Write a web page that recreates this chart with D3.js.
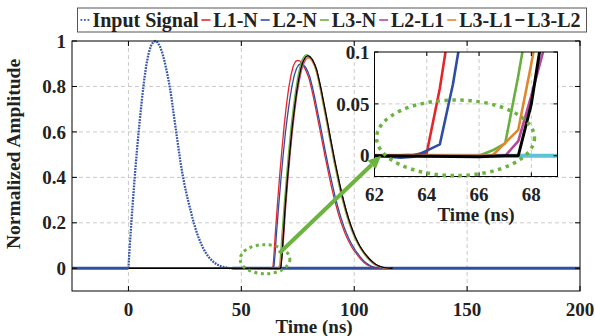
<!DOCTYPE html>
<html><head><meta charset="utf-8">
<script src="https://cdn.jsdelivr.net/npm/d3@7/dist/d3.min.js"></script>
<style>
body{margin:0;background:#fff}
svg{display:block}
text{font-family:"Liberation Serif","Times New Roman",Times,serif;font-weight:700;fill:#222}
</style>
</head><body>
<svg id="c" width="595" height="336"></svg>
<script>
// ---------------- data ----------------
const seriesNames = ["Input Signal","L1-N","L2-N","L3-N","L2-L1","L3-L1","L3-L2"];
const xTickValues = [0,50,100,150,200];
const yTickValues = [0,0.2,0.4,0.6,0.8,1];
const yTickLabels = ["0","0.2","0.4","0.6","0.8","1"];
const insetXTicks = [62,64,66,68];
const insetYTicks = [0,0.05,0.1];
const insetYLabels = ["0","0.05","0.1"];

const inputSignal = [[-25,0],[0,0],[0.5,0.085],[1,0.16],[1.5,0.23],[2,0.3],[3,0.43],[4,0.545],[5,0.65],[6,0.745],[7,0.83],[8,0.9],[9,0.948],[10,0.98],[11,0.996],[12,1.0],[13,0.993],[14,0.975],[15,0.948],[16,0.91],[17,0.865],[18,0.815],[19,0.755],[20,0.68],[21,0.61],[22,0.54],[23,0.47],[24,0.41],[25,0.36],[26,0.315],[27,0.275],[28,0.235],[29,0.198],[30,0.165],[31,0.137],[32,0.112],[33,0.09],[34,0.072],[35,0.057],[36,0.044],[37,0.034],[38,0.025],[39,0.018],[40,0.013],[41,0.009],[42,0.006],[43,0.004],[44,0.002],[45,0.001],[46,0],[200,0]];

const l1n = [[0,0],[62,0],[63,0.0005],[63.5,0.001],[64,0.003],[64.5,0.065],[65,0.146],[66,0.285],[67,0.41],[68,0.525],[69,0.63],[70,0.72],[71,0.795],[72,0.85],[73,0.89],[74,0.91],[75,0.915],[76,0.912],[77,0.9],[78,0.882],[79,0.86],[80,0.835],[81,0.795],[82,0.75],[83,0.7],[84,0.65],[85,0.6],[86,0.548],[87,0.497],[88,0.448],[89,0.4],[90,0.355],[91,0.313],[92,0.275],[93,0.239],[94,0.207],[95,0.178],[96,0.152],[97,0.13],[98,0.11],[99,0.092],[100,0.077],[101,0.064],[102,0.05],[103,0.038],[104,0.028],[105,0.02],[106,0.014],[107,0.009],[108,0.006],[109,0.003],[110,0.002],[112,0]];

const l2n = [[0,0],[62,0],[62.5,-0.001],[63,-0.002],[63.5,-0.001],[64,0.005],[64.5,0.011],[65,0.069],[65.5,0.144],[66.5,0.27],[67.5,0.387],[68.5,0.495],[69.5,0.594],[70.5,0.675],[71.5,0.747],[72.5,0.806],[73.5,0.851],[74.5,0.88],[75.5,0.896],[76.5,0.9],[77.5,0.896],[78.5,0.884],[79.5,0.864],[80.5,0.837],[81.5,0.797],[82.5,0.752],[83.5,0.702],[84.5,0.653],[85.5,0.603],[86.5,0.551],[87.5,0.5],[88.5,0.45],[89.5,0.405],[90.5,0.36],[91.5,0.317],[92.5,0.279],[93.5,0.243],[94.5,0.211],[95.5,0.182],[96.5,0.156],[97.5,0.133],[98.5,0.113],[99.5,0.095],[100.5,0.079],[101.5,0.066],[102.5,0.052],[103.5,0.04],[104.5,0.03],[105.5,0.022],[106.5,0.015],[107.5,0.01],[108.5,0.006],[109.5,0.003],[110.5,0.002],[112.5,0]];

const l3n = [[0,0],[62,0],[65,0],[65.5,-0.001],[66,0],[66.5,0.005],[67,0.012],[67.5,0.077],[68,0.15],[69,0.282],[70,0.404],[71,0.517],[72,0.62],[73,0.705],[74,0.78],[75,0.841],[76,0.888],[77,0.919],[78,0.935],[79,0.94],[80,0.935],[81,0.923],[82,0.902],[83,0.874],[84,0.832],[85,0.785],[86,0.733],[87,0.682],[88,0.63],[89,0.575],[90,0.523],[91,0.47],[92,0.423],[93,0.376],[94,0.331],[95,0.291],[96,0.254],[97,0.22],[98,0.19],[99,0.163],[100,0.139],[101,0.118],[102,0.099],[103,0.083],[104,0.069],[105,0.055],[106,0.043],[107,0.032],[108,0.023],[109,0.016],[110,0.011],[111,0.007],[112,0.004],[113,0.002],[115,0]];

const l2l1 = [[0,0],[62,0],[67,0],[67.5,0.014],[68,0.058],[68.5,0.105],[69,0.17],[69.5,0.25],[70.5,0.375],[71.5,0.49],[72.5,0.59],[73.5,0.68],[74.5,0.755],[75.5,0.815],[76.5,0.865],[77.5,0.898],[78.5,0.918],[79.5,0.928],[80.5,0.926],[81.5,0.915],[82.5,0.895],[83.5,0.866],[84.5,0.826],[85.5,0.778],[86.5,0.727],[87.5,0.675],[88.5,0.623],[89.5,0.569],[90.5,0.517],[91.5,0.466],[92.5,0.419],[93.5,0.372],[94.5,0.328],[95.5,0.289],[96.5,0.252],[97.5,0.218],[98.5,0.188],[99.5,0.161],[100.5,0.137],[101.5,0.116],[102.5,0.097],[103.5,0.081],[104.5,0.068],[105.5,0.055],[106.5,0.043],[107.5,0.032],[108.5,0.023],[109.5,0.016],[110.5,0.011],[111.5,0.007],[112.5,0.004],[113.5,0.002],[115.5,0]];

const l3l1 = [[0,0],[62,0],[66,0],[66.5,0],[67.5,0.025],[68,0.089],[68.5,0.158],[69.5,0.287],[70.5,0.408],[71.5,0.519],[72.5,0.616],[73.5,0.7],[74.5,0.774],[75.5,0.832],[76.5,0.878],[77.5,0.908],[78.5,0.922],[79.5,0.927],[80.5,0.922],[81.5,0.908],[82.5,0.888],[83.5,0.859],[84.5,0.818],[85.5,0.769],[86.5,0.718],[87.5,0.667],[88.5,0.616],[89.5,0.562],[90.5,0.51],[91.5,0.459],[92.5,0.413],[93.5,0.366],[94.5,0.323],[95.5,0.284],[96.5,0.248],[97.5,0.214],[98.5,0.184],[99.5,0.158],[100.5,0.134],[101.5,0.114],[102.5,0.095],[103.5,0.08],[104.5,0.067],[105.5,0.054],[106.5,0.042],[107.5,0.031],[108.5,0.022],[109.5,0.015],[110.5,0.01],[111.5,0.006],[112.5,0.003],[114,0.001],[116,0]];

const l3l2 = [[0,0],[62,0],[66,-0.001],[67,0],[67.5,0],[68,0.05],[68.5,0.13],[69.5,0.281],[70.5,0.402],[71.5,0.514],[72.5,0.617],[73.5,0.701],[74.5,0.776],[75.5,0.837],[76.5,0.884],[77.5,0.914],[78.5,0.93],[79.5,0.935],[80.5,0.93],[81.5,0.918],[82.5,0.898],[83.5,0.87],[84.5,0.827],[85.5,0.781],[86.5,0.729],[87.5,0.678],[88.5,0.626],[89.5,0.572],[90.5,0.52],[91.5,0.468],[92.5,0.421],[93.5,0.374],[94.5,0.329],[95.5,0.29],[96.5,0.252],[97.5,0.219],[98.5,0.189],[99.5,0.162],[100.5,0.138],[101.5,0.117],[102.5,0.098],[103.5,0.082],[104.5,0.068],[105.5,0.056],[106.5,0.044],[107.5,0.034],[108.5,0.025],[109.5,0.018],[110.5,0.012],[111.5,0.008],[112.5,0.005],[113.5,0.003],[115,0.001],[117,0]];

// annotations (data coordinates)
const mainEllipse = {t:60.5, v:0.04, rt:11, rv:0.064};
const insetEllipse = {t:65.1, v:0.0173, rt:3.02, rv:0.0364};
const arrowStart = {t:66.8, v:0.066};   // main axes
const arrowEnd = {t:62.25, v:0.0};      // inset axes

// ---------------- drawing ----------------
const outputs = [l1n,l2n,l3n,l2l1,l3l1,l3l2];
const colors = ["#e4262b","#2d4ea3","#6aae3f","#b4479d","#e0862c","#000000"];
const inputColor = "#2f509f";
const insetInputColor = "#5cc4d6";
const green = "#6cb33f";
const gridColor = "#c4c4c4";
const FONT = "'Liberation Serif','Times New Roman',Times,serif";

const svg = d3.select("#c");
const P = {l:72, r:580, t:41, b:291};
const x = d3.scaleLinear([-25,200],[P.l,P.r]);
const y = d3.scaleLinear([-0.1,1],[P.b,P.t]);

function txt(g){ return g.append("text").style("font-family",FONT).style("font-weight","700"); }

// grid
const gMain = svg.append("g");
gMain.selectAll(".gx").data(xTickValues.filter(d=>d>-25&&d<200)).join("line")
  .attr("x1",d=>x(d)).attr("x2",d=>x(d)).attr("y1",P.t).attr("y2",P.b)
  .attr("stroke",gridColor).attr("stroke-width",0.9).attr("stroke-dasharray","4,3");
gMain.selectAll(".gy").data(yTickValues.filter(d=>d<1)).join("line")
  .attr("y1",d=>y(d)).attr("y2",d=>y(d)).attr("x1",P.l).attr("x2",P.r)
  .attr("stroke",gridColor).attr("stroke-width",0.9).attr("stroke-dasharray","4,3");

// input signal: flat parts solid, pulse dotted
function splitInput(data){
  let i0 = data.findIndex(d=>d[1]!==0), i1 = data.length-1;
  while(data[i1][1]===0) i1--;
  return {left:data.slice(0,i0), pulse:data.slice(i0-1,i1+2), right:data.slice(i1+1)};
}
const parts = splitInput(inputSignal);
const line = d3.line().x(d=>x(d[0])).y(d=>y(d[1]));
[parts.left, parts.right].forEach(p=>{
  gMain.append("path").attr("d",line(p)).attr("fill","none")
    .attr("stroke",inputColor).attr("stroke-width",3);
});
gMain.append("path").attr("d",line(parts.pulse)).attr("fill","none")
  .attr("stroke","#3556ac").attr("stroke-width",2.3).attr("stroke-dasharray","1.8,1.1");

outputs.forEach((s,i)=>{
  gMain.append("path").attr("d",line(s)).attr("fill","none")
    .attr("stroke",colors[i]).attr("stroke-width",1.3).attr("stroke-linejoin","round");
});

// frame + ticks
svg.append("rect").attr("x",P.l).attr("y",P.t).attr("width",P.r-P.l).attr("height",P.b-P.t)
  .attr("fill","none").attr("stroke","#000").attr("stroke-width",1);
const tl = 5;
xTickValues.forEach(d=>{
  svg.append("line").attr("x1",x(d)).attr("x2",x(d)).attr("y1",P.b).attr("y2",P.b-tl).attr("stroke","#000");
  svg.append("line").attr("x1",x(d)).attr("x2",x(d)).attr("y1",P.t).attr("y2",P.t+tl).attr("stroke","#000");
  txt(svg).attr("x",x(d)).attr("y",P.b+24.5).attr("text-anchor","middle")
    .attr("font-size",19).text(d);
});
yTickValues.forEach((d,i)=>{
  svg.append("line").attr("y1",y(d)).attr("y2",y(d)).attr("x1",P.l).attr("x2",P.l+tl).attr("stroke","#000");
  svg.append("line").attr("y1",y(d)).attr("y2",y(d)).attr("x1",P.r).attr("x2",P.r-tl).attr("stroke","#000");
  txt(svg).attr("x",P.l-6).attr("y",y(d)).attr("dy","0.35em").attr("text-anchor","end")
    .attr("font-size",19).text(yTickLabels[i]);
});
txt(svg).attr("x",(P.l+P.r)/2-12).attr("y",333).attr("text-anchor","middle")
  .attr("font-size",19).text("Time (ns)");
txt(svg).attr("transform","translate(20,"+((P.t+P.b)/2-12)+") rotate(-90)")
  .attr("text-anchor","middle").attr("font-size",19.5).text("Normalized Amplitude");

// main ellipse annotation
svg.append("ellipse").attr("cx",x(mainEllipse.t)).attr("cy",y(mainEllipse.v))
  .attr("rx",x(mainEllipse.t+mainEllipse.rt)-x(mainEllipse.t))
  .attr("ry",y(0)-y(mainEllipse.rv))
  .attr("fill","none").attr("stroke",green).attr("stroke-width",3).attr("stroke-dasharray","3,3.5");

// ---------------- inset ----------------
const I = {l:374.5, r:557.5, t:52, b:176.5};
const xi = d3.scaleLinear([62,69],[I.l,I.r]);
const yi = d3.scaleLinear([-0.02,0.1],[I.b,I.t]);
svg.append("rect").attr("x",I.l).attr("y",I.t).attr("width",I.r-I.l).attr("height",I.b-I.t).attr("fill","#fff");
svg.append("clipPath").attr("id","ic").append("rect").attr("x",I.l).attr("y",I.t).attr("width",I.r-I.l).attr("height",I.b-I.t);
const gI = svg.append("g");
gI.selectAll(".igx").data(insetXTicks.filter(d=>d>62)).join("line")
  .attr("x1",d=>xi(d)).attr("x2",d=>xi(d)).attr("y1",I.t).attr("y2",I.b)
  .attr("stroke",gridColor).attr("stroke-width",0.9).attr("stroke-dasharray","4,3");
gI.selectAll(".igy").data(insetYTicks.filter(d=>d<0.1)).join("line")
  .attr("y1",d=>yi(d)).attr("y2",d=>yi(d)).attr("x1",I.l).attr("x2",I.r)
  .attr("stroke",gridColor).attr("stroke-width",0.9).attr("stroke-dasharray","4,3");
const gIc = svg.append("g").attr("clip-path","url(#ic)");
const lineI = d3.line().x(d=>xi(d[0])).y(d=>yi(d[1]));
gIc.append("path").attr("d",lineI(inputSignal)).attr("fill","none").attr("stroke",insetInputColor).attr("stroke-width",4);
outputs.forEach((s,i)=>{
  gIc.append("path").attr("d",lineI(s)).attr("fill","none")
    .attr("stroke",colors[i]).attr("stroke-width",i===5?3:2.6).attr("stroke-linejoin","round");
});
svg.append("rect").attr("x",I.l).attr("y",I.t).attr("width",I.r-I.l).attr("height",I.b-I.t)
  .attr("fill","none").attr("stroke","#000").attr("stroke-width",1);
insetXTicks.forEach(d=>{
  svg.append("line").attr("x1",xi(d)).attr("x2",xi(d)).attr("y1",I.b).attr("y2",I.b-4).attr("stroke","#000");
  svg.append("line").attr("x1",xi(d)).attr("x2",xi(d)).attr("y1",I.t).attr("y2",I.t+4).attr("stroke","#000");
  txt(svg).attr("x",xi(d)).attr("y",I.b+24.5).attr("text-anchor","middle").attr("font-size",19).text(d);
});
insetYTicks.forEach((d,i)=>{
  svg.append("line").attr("y1",yi(d)).attr("y2",yi(d)).attr("x1",I.l).attr("x2",I.l+4).attr("stroke","#000");
  svg.append("line").attr("y1",yi(d)).attr("y2",yi(d)).attr("x1",I.r).attr("x2",I.r-4).attr("stroke","#000");
  txt(svg).attr("x",I.l-5).attr("y",yi(d)).attr("dy","0.35em").attr("text-anchor","end").attr("font-size",19).text(insetYLabels[i]);
});
txt(svg).attr("x",(I.l+I.r)/2+10).attr("y",221).attr("text-anchor","middle").attr("font-size",19).text("Time (ns)");

svg.append("ellipse").attr("cx",xi(insetEllipse.t)).attr("cy",yi(insetEllipse.v))
  .attr("rx",xi(insetEllipse.t+insetEllipse.rt)-xi(insetEllipse.t))
  .attr("ry",yi(0)-yi(insetEllipse.rv))
  .attr("fill","none").attr("stroke",green).attr("stroke-width",3.5).attr("stroke-dasharray","3.5,4.5");

// arrow
const ax0 = x(arrowStart.t), ay0 = y(arrowStart.v), ax1 = xi(arrowEnd.t), ay1 = yi(arrowEnd.v);
const ang = Math.atan2(ay1-ay0, ax1-ax0), hl = 13, hw = 6;
const bx = ax1 - hl*Math.cos(ang), by = ay1 - hl*Math.sin(ang);
svg.append("line").attr("x1",ax0).attr("y1",ay0).attr("x2",bx).attr("y2",by)
  .attr("stroke",green).attr("stroke-width",4);
svg.append("polygon").attr("points",[
  [ax1,ay1],[bx+hw*Math.sin(ang),by-hw*Math.cos(ang)],[bx-hw*Math.sin(ang),by+hw*Math.cos(ang)]
].map(p=>p.join(",")).join(" ")).attr("fill",green);

// ---------------- legend ----------------
const L = {x:77.5, y:8, w:509, h:24};
const gL = svg.append("g");
gL.append("rect").attr("x",L.x).attr("y",L.y).attr("width",L.w).attr("height",L.h)
  .attr("fill","#fff").attr("stroke","#555").attr("stroke-width",1);
const legColors = [null].concat(colors);
const texts = seriesNames.map(n=>txt(gL).attr("font-size",20).attr("y",L.y+L.h/2).attr("dy","0.35em").text(n));
const widths = texts.map(t=>t.node().getComputedTextLength());
const sw = 9;
const totalText = d3.sum(widths);
const gap = Math.max(0.5,(L.w - 6 - totalText - seriesNames.length*sw) / (seriesNames.length*2));
let cx = L.x + 3;
seriesNames.forEach((n,i)=>{
  const ly = L.y+L.h/2;
  if(i===0){
    [0,3.5,7].forEach(o=>gL.append("rect").attr("x",cx+o).attr("y",ly-1).attr("width",1.8).attr("height",1.8).attr("fill","#3b5fb6"));
  } else {
    gL.append("line").attr("x1",cx).attr("x2",cx+sw).attr("y1",ly).attr("y2",ly)
      .attr("stroke",legColors[i]).attr("stroke-width",1.6);
  }
  cx += sw + gap;
  texts[i].attr("x",cx);
  cx += widths[i] + gap;
});
</script>
</body></html>
